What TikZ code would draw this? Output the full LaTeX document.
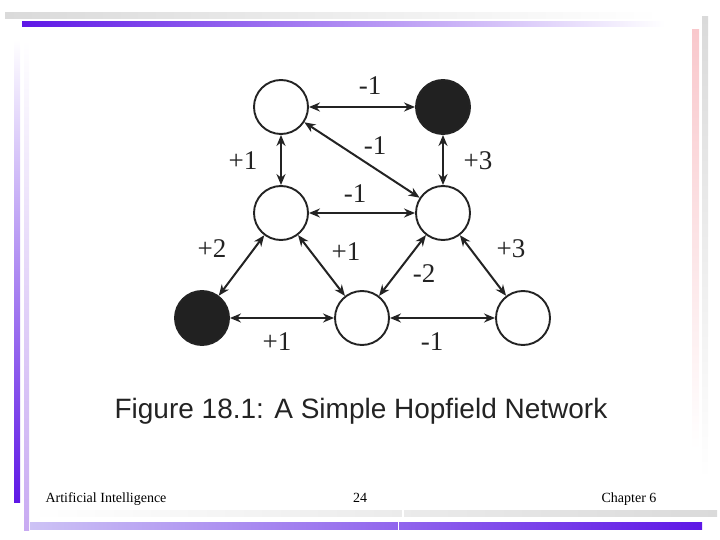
\documentclass[tikz,border=0pt]{standalone}
\usepackage{fontspec}
\setmainfont{Liberation Serif}
\newfontfamily\capfont{Liberation Sans}
\usetikzlibrary{arrows.meta}
\definecolor{violetd}{RGB}{94,23,230}
\definecolor{lavl}{RGB}{200,170,242}
\definecolor{lavb}{RGB}{205,195,245}
\definecolor{pinkr}{RGB}{249,200,204}
\definecolor{grayb}{RGB}{218,218,218}
\definecolor{ink}{RGB}{35,35,35}
\begin{document}
\begin{tikzpicture}[x=1pt,y=-1pt,
  hop/.style={circle, draw=ink, line width=1.9pt, minimum size=54pt, inner sep=0pt, fill=white},
  hopon/.style={hop, fill=ink!95!black},
  link/.style={{Stealth[length=11pt,width=9pt]}-{Stealth[length=11pt,width=9pt]}, line width=2pt, draw=ink},
  wlab/.style={font=\fontsize{27}{27}\selectfont, text=ink},
  foot/.style={font=\fontsize{14}{14}\selectfont, text=black, anchor=base}]
\useasboundingbox (0,0) rectangle (720,540);
% decorative bars
\shade[left color=grayb, right color=white] (5,13) rectangle (660,19);
\shade[left color=violetd, right color=white] (22,22) rectangle (665,27);
\shade[top color=white, bottom color=violetd] (14,40) rectangle (20,502);
\shade[top color=white, bottom color=lavl] (24,40) rectangle (29,530);
\shade[top color=pinkr, bottom color=white] (692,30) rectangle (699,450);
\shade[top color=grayb, bottom color=white] (702,17) rectangle (708,480);
\shade[left color=white, right color=grayb] (30,510) rectangle (717,516);
\shade[left color=lavb, right color=violetd] (30,522) rectangle (702,529);
\fill[white] (402,509) rectangle (404,517);
\fill[white] (397.5,521) rectangle (399,530);
% nodes
\node[hop]   (a) at (281,107) {};
\node[hopon] (b) at (443,107) {};
\node[hop]   (c) at (281,213) {};
\node[hop]   (d) at (443,213) {};
\node[hopon] (e) at (202,318) {};
\node[hop]   (f) at (362,318) {};
\node[hop]   (g) at (523,318) {};
% edges
\draw[link] (a) -- (b);
\draw[link] (a) -- (d);
\draw[link] (a) -- (c);
\draw[link] (b) -- (d);
\draw[link] (c) -- (d);
\draw[link] (c) -- (e);
\draw[link] (c) -- (f);
\draw[link] (d) -- (f);
\draw[link] (d) -- (g);
\draw[link] (e) -- (f);
\draw[link] (f) -- (g);
% weights
\node[wlab] (lab) at (370,86) {-1};
\node[wlab] (lad) at (375,146) {-1};
\node[wlab] (lac) at (243,161) {+1};
\node[wlab] (lbd) at (478,161) {+3};
\node[wlab] (lcd) at (355,194) {-1};
\node[wlab] (lce) at (212,249) {+2};
\node[wlab] (lcf) at (346,252) {+1};
\node[wlab] (ldf) at (424,274) {-2};
\node[wlab] (ldg) at (511,249) {+3};
\node[wlab] (lef) at (277,342) {+1};
\node[wlab] (lfg) at (432,342) {-1};
% caption
\node[font=\capfont\fontsize{28}{28}\selectfont, text=ink] (cap) at (361,411) {Figure 18.1: A Simple Hopfield Network};
% footer
\node[foot, anchor=base west] (fl) at (42,502) {Artificial Intelligence};
\node[foot] (fc) at (360,502) {24};
\node[foot, anchor=base east] (fr) at (660,502) {Chapter 6};
\end{tikzpicture}
\end{document}
